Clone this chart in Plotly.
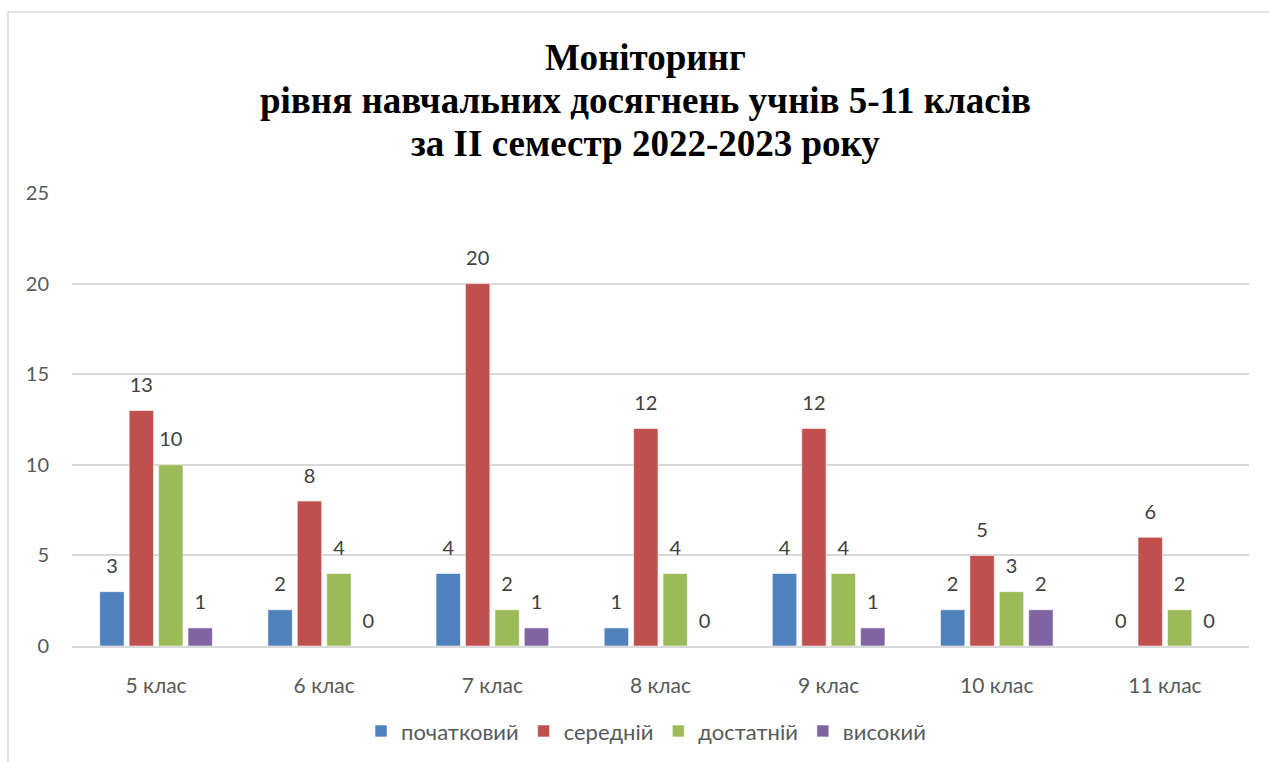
import plotly.graph_objects as go

categories = ["5 клас", "6 клас", "7 клас", "8 клас", "9 клас", "10 клас", "11 клас"]
series_names = ["початковий", "середній", "достатній", "високий"]
pochatkovyi = [3, 2, 4, 1, 4, 2, 0]
serednii = [13, 8, 20, 12, 12, 5, 6]
dostatnii = [10, 4, 2, 4, 4, 3, 2]
vysokyi = [1, 0, 1, 0, 1, 2, 0]
colors = ["#4F81BD", "#C0504D", "#9BBB59", "#8064A2"]
title_lines = ["Моніторинг", "рівня навчальних досягнень учнів 5-11 класів", "за ІІ семестр 2022-2023 року"]

all_series = [pochatkovyi, serednii, dostatnii, vysokyi]
FONT = "Lato, Carlito, Calibri, sans-serif"
FS = 20

fig = go.Figure()
for i, (name, vals, col) in enumerate(zip(series_names, all_series, colors)):
    fig.add_trace(go.Bar(
        x=categories, y=vals, name=name, marker_color=col,
        marker_line=dict(color="rgba(255,255,255,0.6)", width=1),
        offsetgroup=str(i), hoverinfo="x+y+name",
    ))
for i, (name, vals) in enumerate(zip(series_names, all_series)):
    fig.add_trace(go.Scatter(
        x=categories, y=vals, mode="markers+text", text=[str(v) for v in vals],
        textposition="top center", textfont=dict(family=FONT, size=FS, color="#404040"),
        marker=dict(size=20, opacity=0), offsetgroup=str(i), showlegend=False,
        hoverinfo="skip", cliponaxis=False,
    ))

# title lines as annotations (tighter line spacing like the original)
title_centers_px = [57, 100, 143]
annotations = []
for line, cy in zip(title_lines, title_centers_px):
    annotations.append(dict(
        text="<b>" + line + "</b>", xref="paper", yref="paper",
        x=(645 - 72) / 1177, y=(646 - cy) / 453, xanchor="center", yanchor="middle",
        showarrow=False,
        font=dict(family="Liberation Serif, Times New Roman, serif", size=37, color="black"),
    ))

fig.update_layout(
    width=1269, height=762,
    margin=dict(l=72, r=20, t=193, b=116, autoexpand=False),
    paper_bgcolor="white", plot_bgcolor="white",
    barmode="group", scattermode="group", bargap=0.3, bargroupgap=0.17,
    font=dict(family=FONT, color="#595959", size=FS),
    legend=dict(
        orientation="h", x=(646 - 72) / 1177, xanchor="center", y=-0.188, yanchor="middle",
        font=dict(family=FONT, size=22, color="#595959"), itemwidth=30,
        traceorder="normal",
    ),
    showlegend=True,
    annotations=annotations,
    shapes=[dict(
        type="path", xref="paper", yref="paper",
        path="M -0.0544 -0.3 L -0.0544 1.3996 L 1.03 1.3996",
        line=dict(color="#D9D9D9", width=1.5),
    )],
)
fig.update_xaxes(
    showgrid=False, showline=True, linecolor="#D9D9D9", linewidth=1.5,
    ticks="", ticklabelstandoff=20, tickfont=dict(family=FONT, size=21, color="#595959"),
)
fig.update_yaxes(
    range=[0, 25], dtick=5, showgrid=True, gridcolor="#D9D9D9", gridwidth=1.5,
    zeroline=False, showline=False, ticks="", ticklabelstandoff=22,
    tickfont=dict(family=FONT, size=FS, color="#595959"),
)

fig.write_html("out.html")
